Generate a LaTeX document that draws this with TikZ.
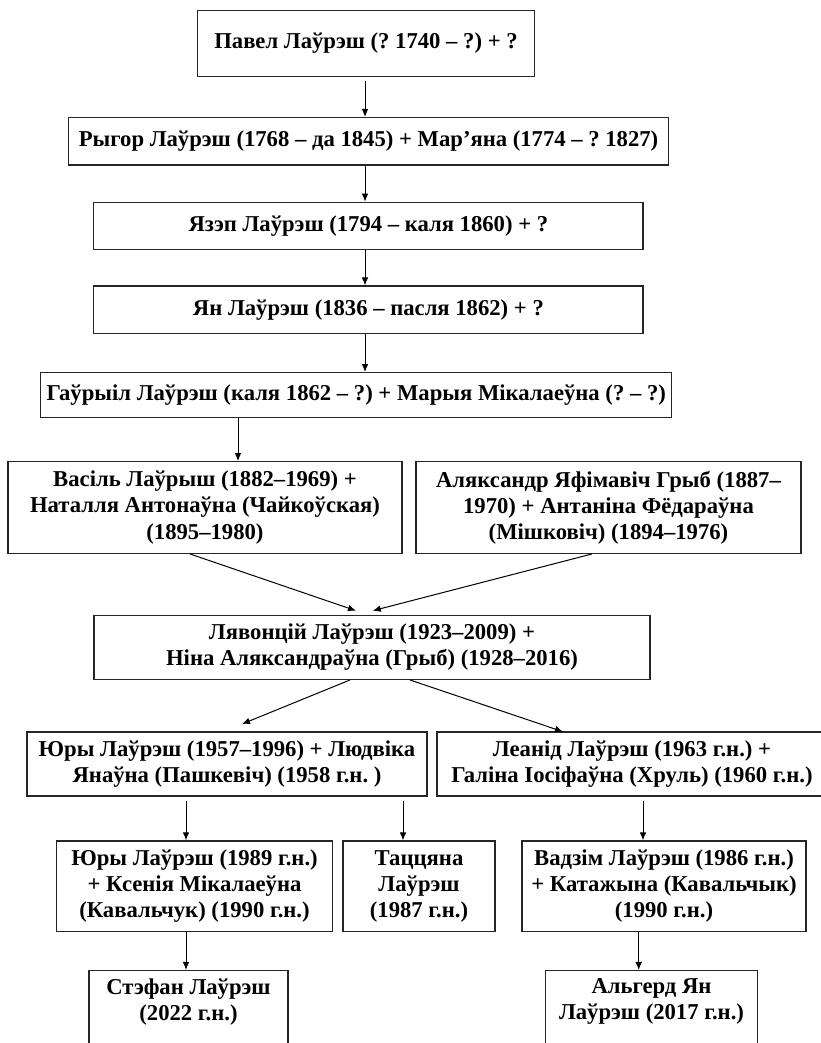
\documentclass[tikz,border=0pt]{standalone}
\usepackage{fontspec}
\setmainfont{Liberation Serif}
\usetikzlibrary{arrows.meta}
\frenchspacing
\begin{document}
\begin{tikzpicture}[x=0.75pt,y=-0.75pt,
  box/.style={draw=black!85, line width=1pt, inner sep=0pt, align=center,
    font=\fontsize{17}{19.6}\selectfont\bfseries\frenchspacing},
  sz/.style 2 args={minimum width=#1*0.75pt, minimum height=#2*0.75pt},
  arr/.style={draw=black, line width=0.75pt, -{Latex[length=6pt,width=5pt]}}]
\useasboundingbox (0,0) rectangle (821,1043);
\clip (0,0) rectangle (821,1043);
\fill[white] (0,0) rectangle (821,1043);

\node[box, sz={337}{65.6}] (b1) at (366,43.5) {Павел Лаўрэш (? 1740 – ?) + ?};
\node[box, sz={600}{47.3}] (b2) at (368.6,141.3) {Рыгор Лаўрэш (1768 – да 1845) + Мар’яна (1774 – ? 1827)};
\node[box, sz={549.3}{47}] (b3) at (368.4,225.8) {Язэп Лаўрэш (1794 – каля 1860) + ?};
\node[box, sz={549.3}{47.3}] (b4) at (368.4,309.7) {Ян Лаўрэш (1836 – пасля 1862) + ?};
\node[box, sz={631}{44.6}] (b5) at (356.3,395) {Гаўрыіл Лаўрэш (каля 1862 – ?) + Марыя Мікалаеўна (? – ?)};
\node[box, sz={394}{91.6}] (b6) at (205,507.5) {Васіль Лаўрыш (1882–1969) +\\Наталля Антонаўна (Чайкоўская)\\(1895–1980)};
\node[box, sz={385}{91.6}] (b7) at (608.5,507.5) {Аляксандр Яфімавіч Грыб (1887–\\1970) + Антаніна Фёдараўна\\(Мішковіч) (1894–1976)};
\node[box, sz={556}{63.6}] (b8) at (372,647.5) {Лявонцій Лаўрэш (1923–2009) +\\Ніна Аляксандраўна (Грыб) (1928–2016)};
\node[box, sz={400}{64.3}] (b9) at (227,764) {Юры Лаўрэш (1957–1996) + Людвіка\\Янаўна (Пашкевіч) (1958 г.н. )};
\node[box, sz={390}{64.3}] (b10) at (632,764) {Леанід Лаўрэш (1963 г.н.) +\\Галіна Іосіфаўна (Хруль) (1960 г.н.)};
\node[box, sz={276}{90.7}] (b11) at (194.5,886.3) {Юры Лаўрэш (1989 г.н.)\\+ Ксенія Мікалаеўна\\(Кавальчук) (1990 г.н.)};
\node[box, sz={152}{90.7}] (b12) at (419,886.3) {Таццяна\\Лаўрэш\\(1987 г.н.)};
\node[box, sz={284}{90.7}] (b13) at (664,886.3) {Вадзім Лаўрэш (1986 г.н.)\\+ Катажына (Кавальчык)\\(1990 г.н.)};
\node[box, sz={199}{91.3}] (b14) at (188.5,1016.3) {Стэфан Лаўрэш\\(2022 г.н.)\\\strut};
\node[box, sz={212}{91.3}] (b15) at (651.5,1016.3) {Альгерд Ян\\Лаўрэш (2017 г.н.)\\\strut};

\coordinate (xa) at (365,0);
\coordinate (x5) at (238,0);
\coordinate (x91) at (186,0);
\coordinate (x92) at (403,0);
\coordinate (x10) at (643,0);
\coordinate (x13) at (638.7,0);

\draw[arr] ([yshift=-3pt]b1.south -| xa) -- (b2.north -| xa);
\draw[arr] (b2.south -| xa) -- (b3.north -| xa);
\draw[arr] (b3.south -| xa) -- (b4.north -| xa);
\draw[arr] (b4.south -| xa) -- (b5.north -| xa);
\draw[arr] (b5.south -| x5) -- (b6.north -| x5);

\coordinate (t6) at (356,610.7);
\coordinate (t7) at (372.8,610.7);
\draw[arr] ([xshift=-11.25pt]b6.south) -- (t6);
\draw[arr] ([xshift=-12.4pt]b7.south) -- (t7);

\coordinate (t9) at (242,724);
\coordinate (t10) at (563,731.7);
\draw[arr] ([xshift=-16.5pt]b8.south) -- (t9);
\draw[arr] ([xshift=28.5pt]b8.south) -- (t10);

\draw[arr] ([yshift=-3pt]b9.south -| x91) -- (b11.north -| x91);
\draw[arr] ([yshift=-3pt]b9.south -| x92) -- (b12.north -| x92);
\draw[arr] ([yshift=-3pt]b10.south -| x10) -- (b13.north -| x10);
\draw[arr] (b11.south -| x91) -- (b14.north -| x91);
\draw[arr] (b13.south -| x13) -- (b15.north -| x13);
\end{tikzpicture}
\end{document}
